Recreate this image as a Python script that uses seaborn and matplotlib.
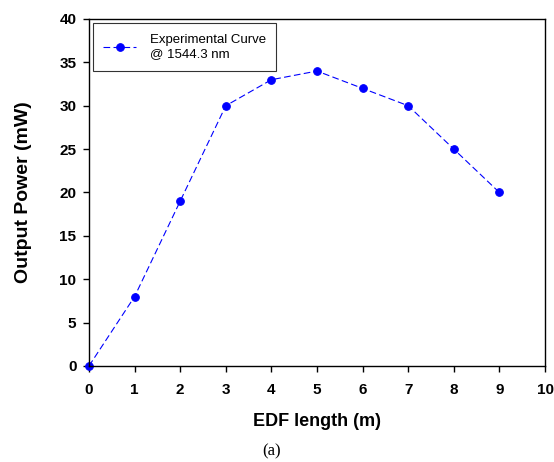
import matplotlib
matplotlib.use('Agg')
import matplotlib.pyplot as plt
import seaborn as sns
import pandas as pd

edf_length = [0, 1, 2, 3, 4, 5, 6, 7, 8, 9]
output_power = [0, 8, 19, 30, 33, 34, 32, 30, 25, 20]
x_ticks = [0, 1, 2, 3, 4, 5, 6, 7, 8, 9, 10]
y_ticks = [0, 5, 10, 15, 20, 25, 30, 35, 40]

sns.set_style('ticks')
plt.rcParams['font.family'] = ['Liberation Sans', 'DejaVu Sans']
plt.rcParams['text.color'] = 'black'
plt.rcParams['axes.labelcolor'] = 'black'
plt.rcParams['xtick.color'] = 'black'
plt.rcParams['ytick.color'] = 'black'

df = pd.DataFrame({'x': edf_length, 'y': output_power})

fig = plt.figure(figsize=(5.54, 4.62), dpi=100)
ax = fig.add_axes([0.1606, 0.2078, 0.8232, 0.7511])

sns.lineplot(data=df, x='x', y='y', ax=ax, color='blue', linestyle=(0, (6, 3)),
             linewidth=0.8, marker='o', markersize=5.5, markeredgecolor='blue',
             label='Experimental Curve\n@ 1544.3 nm', clip_on=False)

ax.set_xlim(0, 10)
ax.set_ylim(0, 40)
ax.set_xticks(x_ticks)
ax.set_yticks(y_ticks)
ax.tick_params(direction='out', length=4, width=1, labelsize=11, pad=5)
ax.tick_params(axis='x', pad=8)
for lab in ax.get_xticklabels() + ax.get_yticklabels():
    lab.set_fontweight('bold')
for s in ax.spines.values():
    s.set_linewidth(1)
    s.set_color('black')

ax.set_xlabel('EDF length (m)', fontsize=13, fontweight='bold', labelpad=12)
ax.set_ylabel('Output Power (mW)', fontsize=14, fontweight='bold', labelpad=20)

leg = ax.legend(loc='upper left', fontsize=9.5, frameon=True, fancybox=False,
                edgecolor='black', handlelength=2.5, borderaxespad=0.3,
                borderpad=0.8, handletextpad=1.0)
leg.get_frame().set_linewidth(0.8)
for t in leg.get_texts():
    t.set_linespacing(1.3)
    t.set_color('black')

fig.text(0.49, 0.024, '(a)', fontsize=12, family=['Liberation Serif', 'DejaVu Serif'],
         ha='center', va='center')

fig.savefig('out.png', dpi=100)
